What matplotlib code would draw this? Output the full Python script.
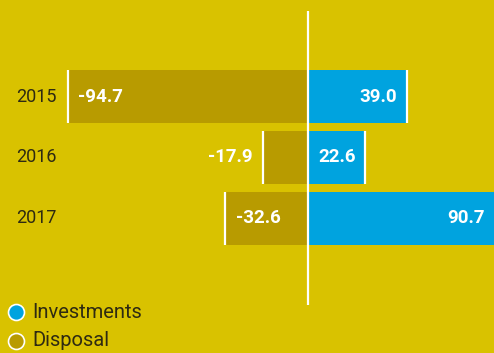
import matplotlib.pyplot as plt

years = ['2015', '2016', '2017']
investments = [39.0, 22.6, 90.7]
disposal = [-94.7, -17.9, -32.6]
legend_labels = ['Investments', 'Disposal']

bg = '#d9c200'
blue = '#00a3df'
olive = '#b89b00'
dark = '#2e2a12'

plt.rcParams['font.family'] = ['Roboto', 'DejaVu Sans']

fig = plt.figure(figsize=(4.94, 3.53), dpi=100, facecolor=bg)
ax = fig.add_axes([0, 0, 1, 1], facecolor=bg)
ax.set_xlim(-121.5, 73.3)
ax.set_ylim(4.205, -1.582)
ax.axis('off')

ys = list(range(len(years)))
h = 0.87
ax.barh(ys, disposal, height=h, color=olive, zorder=2)
ax.barh(ys, investments, height=h, color=blue, zorder=2)

# white marks at the outer end of each bar
lo = [y - h / 2 for y in ys]
hi = [y + h / 2 for y in ys]
ax.vlines(disposal, lo, hi, color='white', lw=1.6, zorder=3)
ax.vlines(investments, lo, hi, color='white', lw=1.6, zorder=3)

# zero line
ax.vlines(0, -1.40, 3.418, color='white', lw=1.6, zorder=4)

# year labels
for y, yr in zip(ys, years):
    ax.text(16 / 494, y, yr, transform=ax.get_yaxis_transform(),
            ha='left', va='center', fontsize=13, color=dark)

xmax = ax.get_xlim()[1]
lab_kw = dict(textcoords='offset points', va='center', color='white',
              fontsize=13.5, fontweight='bold', zorder=5)
for y, v in zip(ys, disposal):
    if abs(v) > 25:
        ax.annotate(f'{v:.1f}', (v, y), xytext=(7.5, 0), ha='left', **lab_kw)
    else:
        ax.annotate(f'{v:.1f}', (v, y), xytext=(-7.5, 0), ha='right', **lab_kw)
for y, v in zip(ys, investments):
    ax.annotate(f'{v:.1f}', (min(v, xmax), y), xytext=(-7, 0), ha='right', **lab_kw)

# legend
for i, (lab, col) in enumerate(zip(legend_labels, [blue, olive])):
    yf = 1 - (312 + 29 * i) / 353
    ax.plot([16 / 494], [yf], 'o', transform=fig.transFigure, ms=11.5,
            mfc=col, mec='white', mew=1.2, clip_on=False)
    fig.text(32 / 494, yf, lab, ha='left', va='center', fontsize=14.5, color=dark)

plt.savefig('out.png', dpi=100, facecolor=bg)
